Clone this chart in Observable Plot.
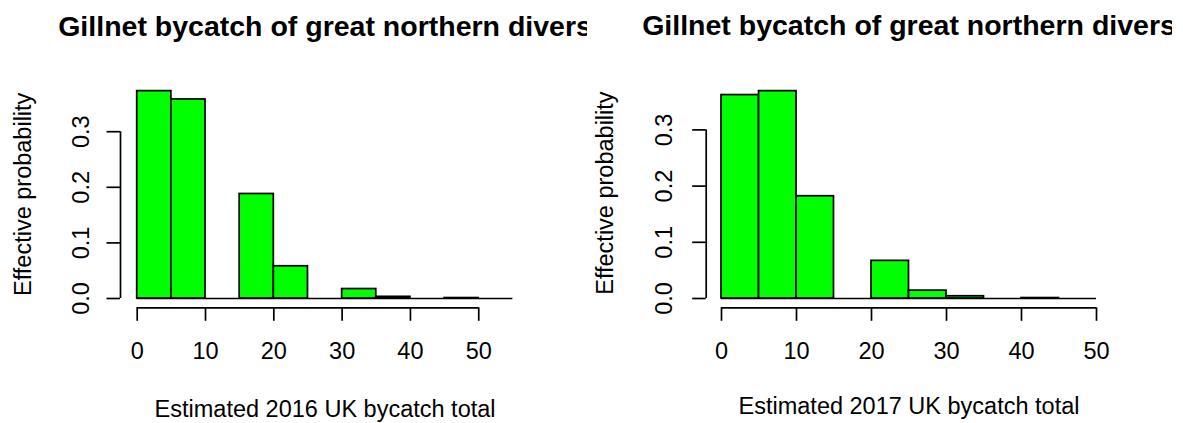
<!DOCTYPE html>
<html>
<head>
<meta charset="utf-8">
<script src="https://cdn.jsdelivr.net/npm/d3@7"></script>
<script src="https://cdn.jsdelivr.net/npm/@observablehq/plot@0.6"></script>
<style>
  body { margin: 0; background: white; }
  #fig { position: relative; width: 1183px; height: 423px; overflow: hidden; }
  .panel { position: absolute; top: 0; height: 423px; overflow: hidden; }
</style>
</head>
<body>
<div id="fig"></div>
<script>
// histogram bins (break points) and effective probability per bin
const titulo = "Gillnet bycatch of great northern divers";
const etiquetaY = "Effective probability";

const breaks2016 = [0, 5, 10, 15, 20, 25, 30, 35, 40, 45, 50, 55];
const prob2016 = [0.373, 0.358, 0, 0.188, 0.058, 0, 0.017, 0.003, 0, 0.0008, 0];
const etiqueta2016 = "Estimated 2016 UK bycatch total";

const breaks2017 = [0, 5, 10, 15, 20, 25, 30, 35, 40, 45, 50];
const prob2017 = [0.362, 0.369, 0.182, 0, 0.067, 0.014, 0.004, 0, 0.0008, 0];
const etiqueta2017 = "Estimated 2017 UK bycatch total";

const ticksX = [0, 10, 20, 30, 40, 50];
const ticksY = [0, 0.1, 0.2, 0.3];

// layout per panel (pixels within the panel)
const paneles = [
  { left: 0, width: 588, x0: 136.7, x1: 512.4, cero: 298, paso: 55.6, ejeY: 120,
    baseTickY: 88.5, baseLabY: 30.5, baseTitulo: 35, baseLabX: 416,
    breaks: breaks2016, prob: prob2016, etiqueta: etiqueta2016 },
  { left: 587, width: 585, x0: 134, x1: 509, cero: 298, paso: 56.2, ejeY: 118.7,
    baseTickY: 84.7, baseLabY: 25, baseTitulo: 35, baseLabX: 413,
    breaks: breaks2017, prob: prob2017, etiqueta: etiqueta2017 },
];

function panel(p) {
  const bins = p.breaks.slice(0, -1).map((b, i) => ({ x1: b, x2: p.breaks[i + 1], prob: p.prob[i] }));
  const H = 423;
  const yMax = 0.4;
  const marginTop = p.cero - yMax * p.paso * 10;
  const marginBottom = H - p.cero;
  const dxEje = p.ejeY - p.x0;
  const dyEje = 9.3;
  const tick = 13.5;

  return Plot.plot({
    width: p.width,
    height: H,
    marginLeft: p.x0,
    marginRight: p.width - p.x1,
    marginTop,
    marginBottom,
    style: {
      background: "white",
      color: "black",
      fontFamily: "'Liberation Sans', Arial, sans-serif",
      fontSize: "23px",
      overflow: "hidden",
    },
    x: { domain: [p.breaks[0], p.breaks[p.breaks.length - 1]] },
    y: { domain: [0, yMax] },
    marks: [
      Plot.rectY(bins, { x1: "x1", x2: "x2", y: "prob", fill: "#00ff00", stroke: "black", strokeWidth: 1.7 }),
      Plot.ruleY([0], { x1: p.breaks[0], x2: p.breaks[p.breaks.length - 1], stroke: "black", strokeWidth: 1.7 }),
      // x axis, R style: detached from the plot
      Plot.ruleY([0], { x1: ticksX[0], x2: ticksX[ticksX.length - 1], dy: dyEje, strokeWidth: 1.7 }),
      Plot.axisX({ ticks: ticksX, tickSize: tick, tickPadding: 21, dy: dyEje, label: null,
                   strokeWidth: 1.7, fontSize: 23.5 }),
      // y axis
      Plot.ruleX([0], { y1: ticksY[0], y2: ticksY[ticksY.length - 1], dx: dxEje, strokeWidth: 1.7 }),
      Plot.axisY({ ticks: ticksY, tickSize: tick, tickPadding: p.ejeY - tick - p.baseTickY,
                   tickRotate: -90, dx: dxEje, label: null, tickFormat: d3.format(".1f"),
                   strokeWidth: 1.7, fontSize: 23.5 }),
      Plot.text([etiquetaY], { text: (d) => d, frameAnchor: "left", rotate: -90, textAnchor: "middle",
                               lineAnchor: "bottom", dx: p.baseLabY - p.x0, dy: 7, fontSize: 23.5 }),
      Plot.text([p.etiqueta], { text: (d) => d, frameAnchor: "bottom", lineAnchor: "bottom",
                                dy: p.baseLabX - p.cero, fontSize: 23.5 }),
      Plot.text([titulo], { text: (d) => d, frameAnchor: "top", lineAnchor: "bottom",
                            dy: p.baseTitulo - marginTop, fontSize: 28.5, fontWeight: "bold" }),
    ],
  });
}

const fig = document.getElementById("fig");
paneles.forEach((p) => {
  const div = document.createElement("div");
  div.className = "panel";
  div.style.left = p.left + "px";
  div.style.width = p.width + "px";
  div.appendChild(panel(p));
  fig.appendChild(div);
});
</script>
</body>
</html>
